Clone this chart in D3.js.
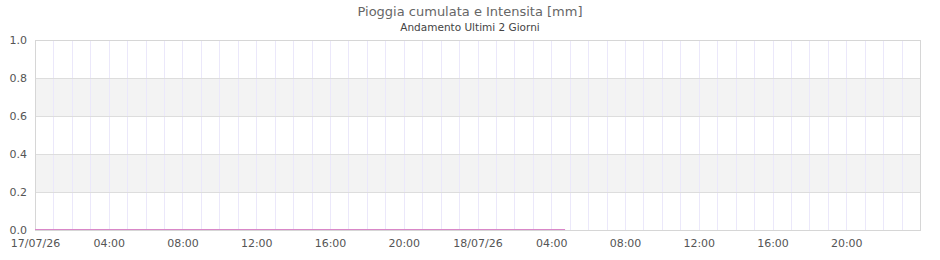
<!DOCTYPE html>
<html><head><meta charset="utf-8">
<script src="https://cdn.jsdelivr.net/npm/d3@7"></script>
<style>
html,body{margin:0;padding:0;background:#fff;}
svg{display:block;font-family:"DejaVu Sans",sans-serif;}
</style></head>
<body><svg id="chart" width="940" height="260"></svg>
<script>
const title = "Pioggia cumulata e Intensita [mm]";
const subtitle = "Andamento Ultimi 2 Giorni";
const domainStart = "2026-07-17T00:00";
const domainEnd = "2026-07-19T00:00";
const sampleTimes = ["2026-07-17T00:00","2026-07-17T01:00","2026-07-17T02:00","2026-07-17T03:00","2026-07-17T04:00","2026-07-17T05:00","2026-07-17T06:00","2026-07-17T07:00","2026-07-17T08:00","2026-07-17T09:00","2026-07-17T10:00","2026-07-17T11:00","2026-07-17T12:00","2026-07-17T13:00","2026-07-17T14:00","2026-07-17T15:00","2026-07-17T16:00","2026-07-17T17:00","2026-07-17T18:00","2026-07-17T19:00","2026-07-17T20:00","2026-07-17T21:00","2026-07-17T22:00","2026-07-17T23:00","2026-07-18T00:00","2026-07-18T01:00","2026-07-18T02:00","2026-07-18T03:00","2026-07-18T04:00","2026-07-18T04:45"];
const rainCumulative = [0,0,0,0,0,0,0,0,0,0,0,0,0,0,0,0,0,0,0,0,0,0,0,0,0,0,0,0,0,0];
const yTicks = [0,0.2,0.4,0.6,0.8,1.0];
const xTickTimes = ["2026-07-17T00:00","2026-07-17T04:00","2026-07-17T08:00","2026-07-17T12:00","2026-07-17T16:00","2026-07-17T20:00","2026-07-18T00:00","2026-07-18T04:00","2026-07-18T08:00","2026-07-18T12:00","2026-07-18T16:00","2026-07-18T20:00"];
const xTickLabels = ["17/07/26","04:00","08:00","12:00","16:00","20:00","18/07/26","04:00","08:00","12:00","16:00","20:00"];

const parse = d3.timeParse("%Y-%m-%dT%H:%M");
const svg = d3.select("#chart");
const m = {l:35, r:20, t:40, b:30};
const W = 940, H = 260;
const x = d3.scaleTime().domain([parse(domainStart), parse(domainEnd)]).range([m.l, W - m.r]);
const y = d3.scaleLinear().domain([0, 1]).range([H - m.b, m.t]);

// alternating bands
for (let i = 0; i < yTicks.length - 1; i++) {
  if (i % 2 === 1) {
    svg.append("rect").attr("x", m.l).attr("width", W - m.r - m.l)
      .attr("y", y(yTicks[i+1])).attr("height", y(yTicks[i]) - y(yTicks[i+1]))
      .attr("fill", "#f3f3f3");
  }
}
// vertical hourly grid
const hours = d3.timeHour.range(parse(domainStart), parse(domainEnd)).slice(1);
svg.append("g").selectAll("line").data(hours).join("line")
  .attr("x1", d => Math.round(x(d)) + 0.5).attr("x2", d => Math.round(x(d)) + 0.5)
  .attr("y1", m.t).attr("y2", H - m.b)
  .attr("stroke", "#ebe8fa").attr("stroke-width", 1);
// horizontal grid
svg.append("g").selectAll("line").data(yTicks).join("line")
  .attr("x1", m.l).attr("x2", W - m.r)
  .attr("y1", d => Math.round(y(d)) + 0.5).attr("y2", d => Math.round(y(d)) + 0.5)
  .attr("stroke", "#dddddd");
// border
svg.append("rect").attr("x", m.l + 0.5).attr("y", m.t + 0.5)
  .attr("width", W - m.r - m.l).attr("height", H - m.b - m.t)
  .attr("fill", "none").attr("stroke", "#d6d6d6");

// axes
const yAxis = d3.axisLeft(y).tickValues(yTicks).tickFormat(d3.format(".1f")).tickSize(0).tickPadding(8);
const gy = svg.append("g").attr("transform", `translate(${m.l},0)`).call(yAxis);
gy.select(".domain").remove();
gy.selectAll("text").attr("fill", "#555").style("font-size", "11px").style("font-family", "DejaVu Sans");

const xAxis = d3.axisBottom(x).tickValues(xTickTimes.map(parse))
  .tickFormat((d, i) => xTickLabels[i]).tickSize(0).tickPadding(9);
const gx = svg.append("g").attr("transform", `translate(0,${H - m.b})`).call(xAxis);
gx.select(".domain").remove();
gx.selectAll("text").attr("fill", "#555").style("font-size", "11px").style("font-family", "DejaVu Sans");

// data line
const line = d3.line().x((d, i) => x(parse(sampleTimes[i]))).y(d => y(d) - 0.5);
svg.append("path").datum(rainCumulative).attr("d", line)
  .attr("fill", "none").attr("stroke", "#d987c8").attr("stroke-width", 1.2);

// titles
svg.append("text").attr("x", W/2).attr("y", 16).attr("text-anchor", "middle")
  .attr("fill", "#666").style("font-size", "13px").text(title);
svg.append("text").attr("x", W/2).attr("y", 31).attr("text-anchor", "middle")
  .attr("fill", "#444").style("font-size", "10.5px").text(subtitle);
</script></body></html>
